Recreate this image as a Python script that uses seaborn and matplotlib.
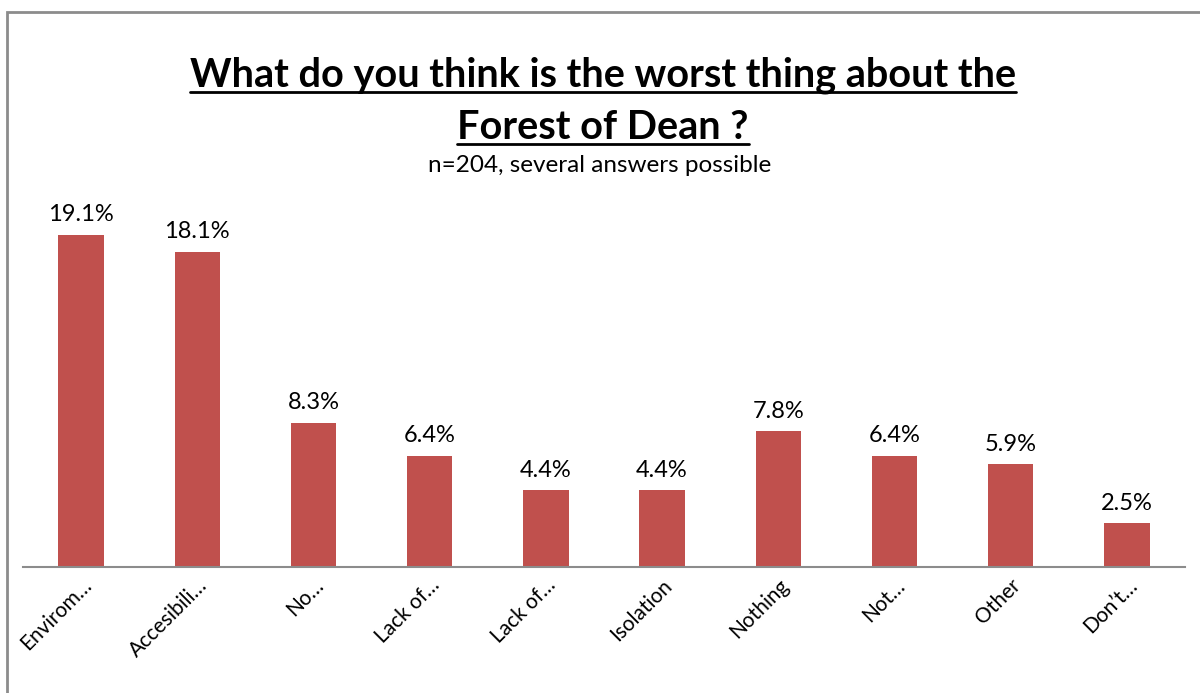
import matplotlib
matplotlib.use("Agg")
import matplotlib.pyplot as plt
import seaborn as sns
import pandas as pd
from matplotlib.patches import Rectangle
from matplotlib.lines import Line2D

# data
categories = ["Envirom\u2026", "Accesibili\u2026", "No\u2026", "Lack of\u2026", "Lack of\u2026",
              "Isolation", "Nothing", "Not\u2026", "Other", "Don\u2019t\u2026"]
values = [19.1, 18.1, 8.3, 6.4, 4.4, 4.4, 7.8, 6.4, 5.9, 2.5]

df = pd.DataFrame({"pos": range(len(categories)), "value": values})

sns.set_style("white")
plt.rcParams["font.family"] = ["Lato", "DejaVu Sans"]
plt.rcParams["text.color"] = "black"
plt.rcParams["xtick.color"] = "black"

fig = plt.figure(figsize=(12, 6.93), dpi=100)
ax = fig.add_axes([23 / 1200, 126 / 693, 1162 / 1200, 0.56])

sns.barplot(data=df, x="pos", y="value", color="#C0504D", saturation=1,
            width=0.39, ax=ax, linewidth=0)

ax.set_ylim(0, 22.3)
ax.set_xlim(-0.5, len(categories) - 0.5)
for i, v in enumerate(values):
    ax.text(i, v + 0.55, f"{v:.1f}%", ha="center", va="bottom", fontsize=17)

ax.set_xticks(range(len(categories)))
ax.set_xticklabels(categories, rotation=45, ha="right", rotation_mode="anchor",
                   fontsize=15)
ax.tick_params(axis="x", length=0, pad=6)
ax.set_yticks([])
ax.set_xlabel("")
ax.set_ylabel("")
for s in ["top", "right", "left"]:
    ax.spines[s].set_visible(False)
ax.spines["bottom"].set_color("#8C8C8C")
ax.spines["bottom"].set_linewidth(1.5)

# titles
t1 = fig.text(603 / 1200, 1 - 87 / 693, "What do you think is the worst thing about the",
              ha="center", va="baseline", fontsize=28.5, fontweight="bold")
t2 = fig.text(603 / 1200, 1 - 139 / 693, "Forest of Dean ?",
              ha="center", va="baseline", fontsize=28.5, fontweight="bold")
fig.text(600 / 1200, 1 - 166 / 693, "n=204, several answers possible",
         ha="center", va="center", fontsize=17.5)

# underline the title lines
fig.canvas.draw()
r = fig.canvas.get_renderer()
for t in (t1, t2):
    bb = t.get_window_extent(renderer=r)
    y = t.get_position()[1] * fig.bbox.height - 5
    fig.add_artist(Line2D([bb.x0 / fig.bbox.width, bb.x1 / fig.bbox.width],
                          [y / fig.bbox.height] * 2, transform=fig.transFigure,
                          color="black", lw=2))

# chart frame
fig.add_artist(Rectangle((7 / 1200, -0.05), 1.2, 1 - 12 / 693 + 0.05,
                         transform=fig.transFigure, fill=False,
                         edgecolor="#8C8C8C", lw=2))

fig.savefig("out.png", dpi=100)
